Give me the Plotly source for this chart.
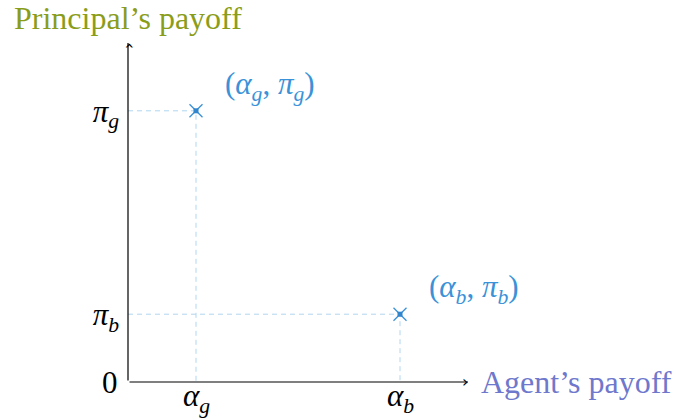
import plotly.graph_objects as go

# Contract outcomes: agent's payoff (alpha) and principal's payoff (pi)
outcome_names = ["g", "b"]
agent_payoff = [1, 4]
principal_payoff = [4, 1]
axis_max = 5

point_color = "#3a92d8"
guide_color = "#b0d6f0"
serif = "Liberation Serif, DejaVu Serif, serif"


def alpha(s):
    return f"<i>α</i><sub><i>{s}</i></sub>"


def pi(s):
    return f"<i>π</i><sub><i>{s}</i></sub>"


fig = go.Figure()

# dashed guide lines from each point to the axes
for x, y in zip(agent_payoff, principal_payoff):
    fig.add_trace(go.Scatter(x=[0, x, x], y=[y, y, 0], mode="lines",
                             line=dict(color=guide_color, width=1, dash="5px,4px"),
                             hoverinfo="skip", showlegend=False))

# the outcome points: thin cross with a small square centre
fig.add_trace(go.Scatter(x=agent_payoff, y=principal_payoff, mode="markers",
                         marker=dict(symbol="x-thin-open", size=13, color=point_color,
                                     line=dict(color=point_color, width=1.3)),
                         showlegend=False, hoverinfo="skip"))
fig.add_trace(go.Scatter(x=agent_payoff, y=principal_payoff, mode="markers",
                         marker=dict(symbol="square", size=5, color="#3185cc",
                                     line=dict(width=0)),
                         showlegend=False, hoverinfo="skip"))

# point labels
for s, x, y in zip(outcome_names, agent_payoff, principal_payoff):
    fig.add_annotation(x=x, y=y, xref="x", yref="y", text=f"({alpha(s)}, {pi(s)})",
                       showarrow=False, xanchor="left", yanchor="middle",
                       xshift=27, yshift=25,
                       font=dict(family=serif, size=31, color=point_color))

# x tick labels under the axis
for s, x in zip(outcome_names, agent_payoff):
    fig.add_annotation(x=x, y=0, xref="x", yref="y", text=alpha(s),
                       showarrow=False, xanchor="center", yanchor="middle", yshift=-16,
                       font=dict(family=serif, size=31, color="black"))

# axes drawn as lines from the origin
for tip_x, tip_y in [(axis_max, 0), (0, axis_max)]:
    fig.add_annotation(x=tip_x, y=tip_y, ax=0, ay=0, xref="x", yref="y",
                       axref="x", ayref="y", showarrow=True, arrowhead=0,
                       arrowwidth=1.2, arrowcolor="black", text="")
# open arrowheads
fig.add_annotation(x=axis_max, y=0, xref="x", yref="y", text="›", showarrow=False,
                   xanchor="center", yanchor="middle", xshift=-3, yshift=1,
                   font=dict(family="DejaVu Sans", size=16, color="black"))
fig.add_annotation(x=0, y=axis_max, xref="x", yref="y", text="›", showarrow=False,
                   textangle=-90, xanchor="center", yanchor="middle", yshift=-3,
                   font=dict(family="DejaVu Sans", size=16, color="black"))

# axis titles
fig.add_annotation(x=axis_max, y=0, xref="x", yref="y", text="Agent’s payoff",
                   showarrow=False, xanchor="left", yanchor="middle", xshift=11, yshift=0,
                   font=dict(family=serif, size=32, color="#6e78cc"))
fig.add_annotation(x=0, y=axis_max, xref="x", yref="y", text="Principal’s payoff",
                   showarrow=False, xanchor="center", yanchor="middle", yshift=25,
                   font=dict(family=serif, size=32, color="#8a9d1a"))
# origin label
fig.add_annotation(x=0, y=0, xref="x", yref="y", text="0", showarrow=False,
                   xanchor="right", yanchor="middle", xshift=-8, yshift=0,
                   font=dict(family=serif, size=31, color="black"))

fig.update_xaxes(range=[0, axis_max], showgrid=False, zeroline=False, showline=False,
                 automargin=False, showticklabels=False, ticks="")
fig.update_yaxes(range=[0, axis_max], showgrid=False, zeroline=False, showline=False,
                 automargin=False,
                 tickvals=principal_payoff, ticktext=[pi(s) for s in outcome_names],
                 ticks="", ticklabelstandoff=8,
                 tickfont=dict(family=serif, size=31, color="black"))

fig.update_layout(width=676, height=419, margin=dict(l=128, r=208, t=43, b=37),
                  plot_bgcolor="white", paper_bgcolor="white")

fig.write_html("out.html")
